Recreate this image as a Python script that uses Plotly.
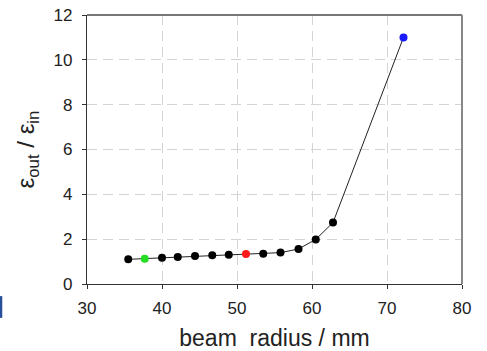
import plotly.graph_objects as go

radius = [35.5, 37.7, 40.0, 42.1, 44.4, 46.7, 48.9, 51.2, 53.5, 55.8, 58.2, 60.5, 62.8, 72.2]
ratio = [1.10, 1.13, 1.17, 1.21, 1.25, 1.28, 1.31, 1.34, 1.35, 1.40, 1.56, 1.99, 2.74, 11.0]
point_colors = ["#000000", "#22dd22", "#000000", "#000000", "#000000", "#000000", "#000000",
                "#ff1a1a", "#000000", "#000000", "#000000", "#000000", "#000000", "#1a1aff"]
x_ticks = [30, 40, 50, 60, 70, 80]
y_ticks = [0, 2, 4, 6, 8, 10, 12]

fig = go.Figure()
fig.add_trace(go.Scatter(
    x=radius, y=ratio, mode="lines+markers",
    line=dict(color="#222222", width=1),
    marker=dict(color=point_colors, size=8, line=dict(width=0)),
    showlegend=False,
))

font_family = "Liberation Sans, Arial, sans-serif"
grid_dash = "10px,6px"
fig.update_layout(
    width=487, height=351,
    margin=dict(l=87, r=25, t=15, b=67),
    paper_bgcolor="white", plot_bgcolor="white",
    font=dict(family=font_family, color="#222222", size=17),
    xaxis=dict(
        range=[30, 80], tickvals=x_ticks, ticktext=[str(v) for v in x_ticks],
        showgrid=True, gridcolor="#d4d4d4", griddash=grid_dash, gridwidth=1,
        showline=True, linecolor="#333333", linewidth=1.2, mirror=False,
        ticks="outside", ticklen=4, tickcolor="#333333",
        tickfont=dict(size=17, color="#222222"), ticklabelstandoff=4,
        title=dict(text="beam&nbsp;&nbsp;radius / mm", font=dict(size=23, color="#222222"), standoff=14),
        zeroline=False, automargin=False,
    ),
    yaxis=dict(
        range=[0, 12], tickvals=y_ticks, ticktext=[str(v) for v in y_ticks],
        showgrid=True, gridcolor="#d4d4d4", griddash=grid_dash, gridwidth=1,
        showline=True, linecolor="#333333", linewidth=1.2, mirror=False,
        ticks="outside", ticklen=4, tickcolor="#333333",
        tickfont=dict(size=17, color="#222222"), ticklabelstandoff=6,
        title=dict(text="ε<sub>out</sub> / ε<sub>in</sub>", font=dict(size=24, color="#222222"), standoff=12),
        zeroline=False, automargin=False,
    ),
)

# gray top and right frame
fig.add_shape(type="line", xref="paper", yref="paper", x0=0, x1=1, y0=1, y1=1,
              line=dict(color="#777777", width=2))
fig.add_shape(type="line", xref="paper", yref="paper", x0=1, x1=1, y0=0, y1=1,
              line=dict(color="#888888", width=2))
# small blue fragment at the left edge
fig.add_shape(type="rect", xref="paper", yref="paper", x0=-0.232, x1=-0.226, y0=-0.126, y1=-0.045,
              line=dict(width=0), fillcolor="#2a4f9a")

fig.write_html("out.html")
